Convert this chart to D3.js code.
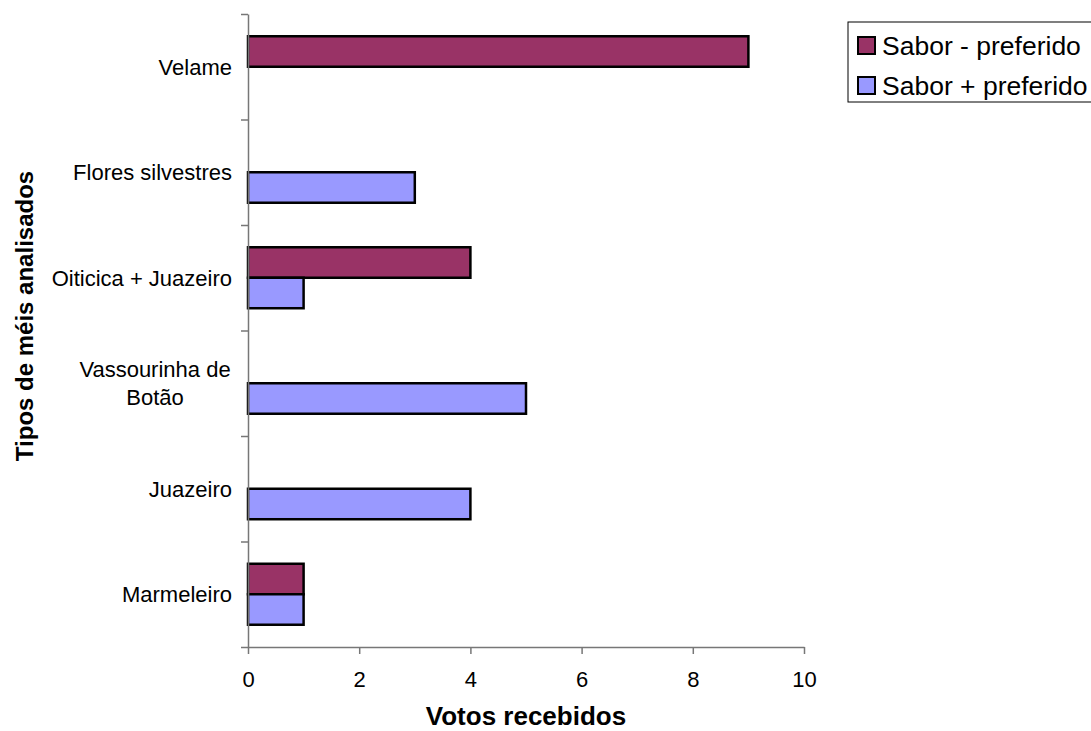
<!DOCTYPE html>
<html>
<head>
<meta charset="utf-8">
<script src="https://cdn.jsdelivr.net/npm/d3@7"></script>
<style>
  body { margin: 0; background: #fff; }
  text { font-family: "Liberation Sans", Arial, sans-serif; fill: #000; }
</style>
</head>
<body>
<svg width="1091" height="731"></svg>
<script>
// dados (de cima para baixo)
const categorias = ["Velame", "Flores silvestres", "Oiticica + Juazeiro", "Vassourinha de Botão", "Juazeiro", "Marmeleiro"];
const series = ["Sabor - preferido", "Sabor + preferido"];
const saborMenos = [9, 0, 4, 0, 0, 1];
const saborMais = [0, 3, 1, 5, 4, 1];
const xTicks = [0, 2, 4, 6, 8, 10];
const cores = ["#993366", "#9999FF"];

const svg = d3.select("svg");
const esq = 248, dir = 804, topo = 14, base = 647;

const x = d3.scaleLinear().domain([0, 10]).range([esq, dir]);
const y = d3.scaleBand().domain(categorias).range([topo, base]).padding(0);
const y1 = d3.scaleBand().domain(series).range([0, y.bandwidth()]).paddingInner(0).paddingOuter(0.73);
const yIdx = d3.scaleLinear().domain([0, categorias.length]).range([topo, base]);

const valores = [saborMenos, saborMais];

// barras
categorias.forEach((c, i) => {
  series.forEach((s, j) => {
    const v = valores[j][i];
    if (v <= 0) return;
    svg.append("rect")
      .attr("x", x(0))
      .attr("y", y(c) + y1(s))
      .attr("width", x(v) - x(0))
      .attr("height", y1.bandwidth())
      .attr("fill", cores[j])
      .attr("stroke", "#000")
      .attr("stroke-width", 2.5);
  });
});

// eixo y (ticks nas divisões)
const gy = svg.append("g")
  .attr("transform", `translate(${esq},0)`)
  .call(d3.axisLeft(yIdx).tickValues(d3.range(categorias.length + 1)).tickFormat("").tickSize(7).tickSizeOuter(0));
gy.selectAll("path, line").attr("stroke", "#777").attr("stroke-width", 1.5);

// rótulos das categorias
categorias.forEach(c => {
  const cy = y(c) + y.bandwidth() / 2;
  const t = svg.append("text")
    .attr("x", esq - 16)
    .attr("text-anchor", "end")
    .style("font-size", "22px");
  if (c === "Vassourinha de Botão") {
    t.attr("text-anchor", "middle").attr("x", 155);
    t.append("tspan").attr("x", 155).attr("y", cy - 6).text("Vassourinha de");
    t.append("tspan").attr("x", 155).attr("y", cy + 22).text("Botão");
  } else {
    t.attr("y", cy + 8).text(c);
  }
});

// eixo x
const gx = svg.append("g")
  .attr("transform", `translate(0,${base})`)
  .call(d3.axisBottom(x).tickValues(xTicks).tickSize(7).tickSizeOuter(0).tickPadding(17));
gx.selectAll("path, line").attr("stroke", "#777").attr("stroke-width", 1.5);
gx.selectAll("text").style("font-size", "22px").style("font-family", "Liberation Sans, Arial, sans-serif");

// títulos dos eixos
svg.append("text")
  .attr("x", (esq + dir) / 2)
  .attr("y", 725)
  .attr("text-anchor", "middle")
  .style("font-size", "26px")
  .style("font-weight", "bold")
  .text("Votos recebidos");

svg.append("text")
  .attr("transform", "translate(33,316) rotate(-90)")
  .attr("text-anchor", "middle")
  .style("font-size", "24px")
  .style("font-weight", "bold")
  .text("Tipos de méis analisados");

// legenda
const leg = svg.append("g").attr("transform", "translate(848,22)");
leg.append("rect").attr("width", 260).attr("height", 80)
  .attr("fill", "#fff").attr("stroke", "#000").attr("stroke-width", 1);
series.forEach((s, j) => {
  const ly = 23 + j * 40;
  leg.append("rect").attr("x", 10).attr("y", ly - 8).attr("width", 17).attr("height", 17)
    .attr("fill", cores[j]).attr("stroke", "#000").attr("stroke-width", 2);
  leg.append("text").attr("x", 34).attr("y", ly + 9.5)
    .style("font-size", "26.5px").text(s);
});
</script>
</body>
</html>
